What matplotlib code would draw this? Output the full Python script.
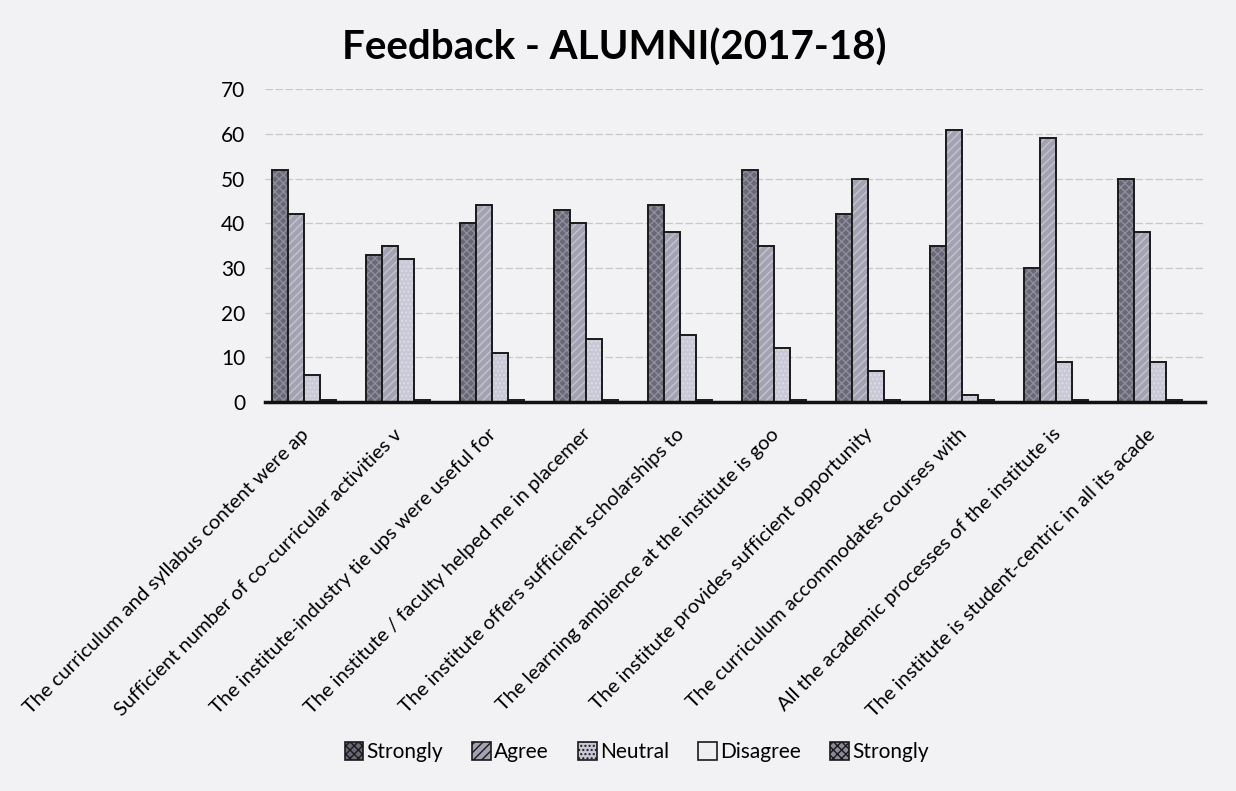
import numpy as np
import matplotlib.pyplot as plt
import matplotlib.transforms as mtransforms

categories = [
    "The curriculum and syllabus content were ap",
    "Sufficient number of co-curricular activities v",
    "The institute-industry tie ups were useful for",
    "The institute / faculty helped me in placemer",
    "The institute offers sufficient scholarships to",
    "The learning ambience at the institute is goo",
    "The institute provides sufficient opportunity",
    "The curriculum accommodates courses with",
    "All the academic processes of the institute is",
    "The institute is student-centric in all its acade",
]
strongly_agree = [52, 33, 40, 43, 44, 52, 42, 35, 30, 50]
agree = [42, 35, 44, 40, 38, 35, 50, 61, 59, 38]
neutral = [6, 32, 11, 14, 15, 12, 7, 1.5, 9, 9]
disagree = [0.4, 0.4, 0.4, 0.4, 0.4, 0.4, 0.4, 0.4, 0.4, 0.4]
strongly_disagree = [0, 0, 0, 0, 0, 0, 0, 0, 0, 0]
series_names = ["Strongly", "Agree", "Neutral", "Disagree", "Strongly"]
y_ticks = [0, 10, 20, 30, 40, 50, 60, 70]


def main():
    plt.rcParams['font.family'] = ['Lato', 'DejaVu Sans']
    fig = plt.figure(figsize=(12.36, 7.91), dpi=100)
    fig.patch.set_facecolor('#f2f2f4')
    ax = fig.add_axes([0.214, 0.492, 0.761, 0.395])
    ax.set_facecolor('none')

    series = [strongly_agree, agree, neutral, disagree, strongly_disagree]
    colors = ['#686876', '#a2a2b2', '#c8c8d6', '#eeeef3', '#8a8a9a']
    hatch_cols = ['#8e8e9c', '#c4c4d0', '#dcdce6', '#eeeef3', '#a8a8b6']
    hatches = ['xxxx', '////', '....', '', 'xxxx']
    x = np.arange(len(categories))
    w = 0.17
    for i, vals in enumerate(series):
        # hatched fill first, then a black outline on top
        ax.bar(x + (i - 2) * w, vals, w, color=colors[i], edgecolor=hatch_cols[i],
               linewidth=0, hatch=hatches[i], zorder=3)
        ax.bar(x + (i - 2) * w, vals, w, fill=False, edgecolor='#1a1a1a',
               linewidth=1.4, zorder=3)
        ax.bar([0], [0], 0, color=colors[i], edgecolor='#1a1a1a', linewidth=1.2,
               hatch=hatches[i], label=series_names[i])

    ax.set_ylim(0, 70)
    ax.set_xlim(-0.5, len(categories) - 0.5)
    ax.set_yticks(y_ticks)
    ax.tick_params(axis='y', length=0, labelsize=15, pad=14)
    ax.tick_params(axis='x', length=0, pad=17)
    ax.set_xticks(x)
    ax.set_xticklabels(categories, rotation=45, ha='right', rotation_mode='anchor',
                       fontsize=14.5)
    shift = mtransforms.ScaledTranslation(-0.12, 0, fig.dpi_scale_trans)
    for lab in ax.get_xticklabels():
        lab.set_transform(lab.get_transform() + shift)
    ax.grid(axis='y', color='#c8c8c8', linewidth=0.9, linestyle=(0, (6, 2)), zorder=0)
    for s in ['top', 'right', 'left']:
        ax.spines[s].set_visible(False)
    ax.spines['bottom'].set_linewidth(2.5)
    ax.spines['bottom'].set_color('#111111')
    ax.spines['bottom'].set_zorder(4)

    fig.text(0.497, 0.94, "Feedback - ALUMNI(2017-18)", ha='center', va='center',
             fontsize=29, fontweight='bold')
    fig.legend(loc='center', bbox_to_anchor=(0.515, 0.049), ncol=5, frameon=False,
               fontsize=15, handlelength=0.9, handleheight=0.9, handletextpad=0.15,
               columnspacing=1.4)
    fig.savefig('out.png', dpi=100, facecolor=fig.get_facecolor())


if __name__ == '__main__':
    main()
